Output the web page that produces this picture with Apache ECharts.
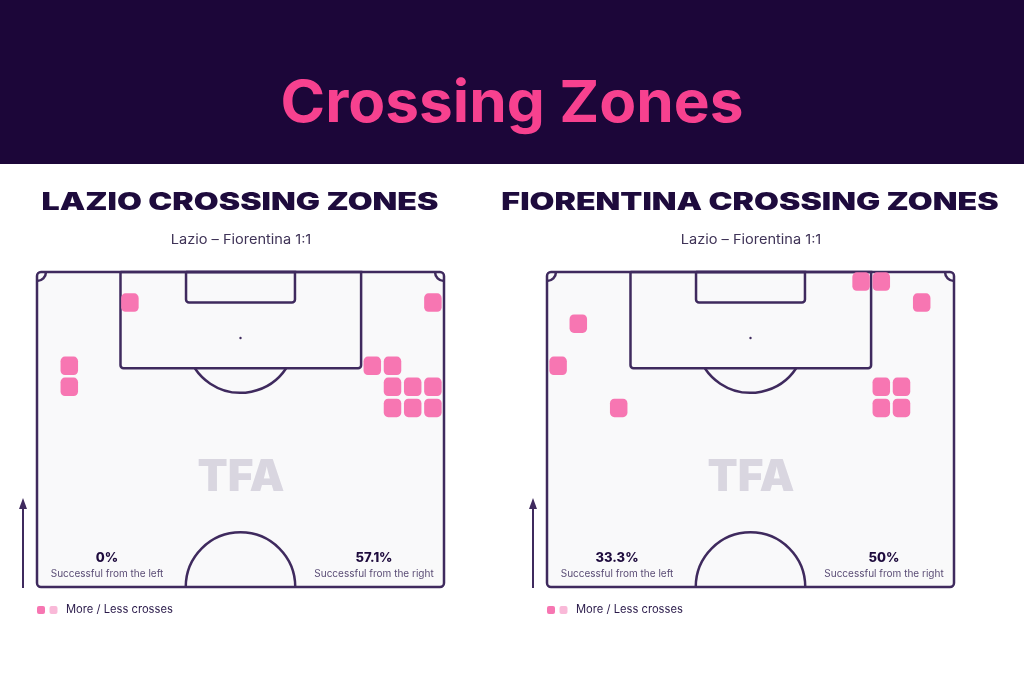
<!DOCTYPE html>
<html>
<head>
<meta charset="utf-8">
<script src="https://cdn.jsdelivr.net/npm/echarts@6/dist/echarts.min.js"></script>
<style>
  html, body { margin: 0; padding: 0; background: #ffffff; }
  #chart { width: 1024px; height: 683px; }
</style>
</head>
<body>
<div id="chart"></div>
<script>
// ---------- data ----------
const headerTitle = 'Crossing Zones';
const panelTitles = ['LAZIO CROSSING ZONES', 'FIORENTINA CROSSING ZONES'];
const matchLabels = ['Lazio – Fiorentina 1:1', 'Lazio – Fiorentina 1:1'];
const successLeft = ['0%', '33.3%'];
const successRight = ['57.1%', '50%'];
const captionLeft = 'Successful from the left';
const captionRight = 'Successful from the right';
const legendLabel = 'More / Less crosses';
const watermark = 'TFA';
// crossing zones: 20 columns across the pitch width, 15 rows from goal line to halfway line
const zoneColumns = ['1','2','3','4','5','6','7','8','9','10','11','12','13','14','15','16','17','18','19','20'];
const zoneRows = ['1','2','3','4','5','6','7','8','9','10','11','12','13','14','15'];
// [column index, row index]
const lazioCrosses = [[4,1],[19,1],[1,4],[1,5],[16,4],[17,4],[17,5],[18,5],[19,5],[17,6],[18,6],[19,6]];
const fiorentinaCrosses = [[15,0],[16,0],[18,1],[1,2],[0,4],[3,6],[16,5],[17,5],[16,6],[17,6]];

// ---------- styling / layout ----------
const LINE = '#3F2A5E';
const DARK = '#1E0B3D';
const PINK = '#F776B2';
const PINK_LIGHT = '#F9B9D8';
const PITCH_FILL = '#F9F9FA';
const FONT = 'Inter, "Noto Sans", sans-serif';
const PANEL_DX = 510;

const PITCH_W = 68, PITCH_H = 52.5;

function pitchItem(params, api) {
  const p = (x, y) => api.coord([x, y]);
  const tl = p(0, 0), br = p(PITCH_W, PITCH_H);
  const sx = (br[0] - tl[0]) / PITCH_W;
  const lw = 2.5;
  const ls = { stroke: LINE, lineWidth: lw, fill: null };
  const box = (x1, x2, depth, r) => {
    const a = p(x1, 0), b = p(x2, depth);
    return { type: 'rect', shape: { x: a[0], y: a[1], width: b[0] - a[0], height: b[1] - a[1], r: r }, style: ls };
  };
  const spot = p(34, 11);
  const boxDepth = 16.05, arcR = 9.15;
  const th = Math.asin((boxDepth - 11) / arcR);
  const cc = p(34, PITCH_H);
  const cornerR = 1.5 * sx;
  return {
    type: 'group',
    children: [
      { type: 'rect', shape: { x: tl[0], y: tl[1], width: br[0] - tl[0], height: br[1] - tl[1], r: 4 },
        style: { fill: PITCH_FILL, stroke: LINE, lineWidth: lw } },
      box(13.95, 54.15, boxDepth, [0, 0, 3, 3]),
      box(24.9, 43.1, 5.1, [0, 0, 3, 3]),
      { type: 'arc', shape: { cx: spot[0], cy: spot[1], r: arcR * sx, startAngle: th, endAngle: Math.PI - th, clockwise: true }, style: ls },
      { type: 'circle', shape: { cx: spot[0], cy: spot[1], r: 1.2 }, style: { fill: LINE } },
      { type: 'arc', shape: { cx: cc[0], cy: cc[1], r: 9.15 * sx, startAngle: Math.PI, endAngle: 2 * Math.PI, clockwise: true }, style: ls },
      { type: 'arc', shape: { cx: tl[0], cy: tl[1], r: cornerR, startAngle: 0, endAngle: Math.PI / 2, clockwise: true }, style: ls },
      { type: 'arc', shape: { cx: br[0], cy: tl[1], r: cornerR, startAngle: Math.PI / 2, endAngle: Math.PI, clockwise: true }, style: ls }
    ]
  };
}

function text(x, y, str, font, fill, align, scaleX) {
  return { type: 'text', z: 10, x: x, y: y, scaleX: scaleX || 1,
    style: { x: 0, y: 0, text: str, font: font, fill: fill, textAlign: align || 'center', textVerticalAlign: 'middle' } };
}

const graphics = [
  { type: 'rect', z: -10, shape: { x: 0, y: 0, width: 1024, height: 164 }, style: { fill: '#1C0639' } },
  text(512, 105, headerTitle, '700 58px ' + FONT, '#F7418F', 'center', 1.04)
];
[0, 1].forEach(function (i) {
  const dx = i * PANEL_DX;
  graphics.push(text(240 + dx, 203, panelTitles[i], '900 24px ' + FONT, DARK, 'center', 1.34));
  graphics.push(text(241 + dx, 240, matchLabels[i], '400 13px ' + FONT, '#3F3357', 'center', 1.12));
  graphics.push(text(241 + dx, 478, watermark, '900 44px ' + FONT, '#D9D6E0'));
  graphics.push(text(107 + dx, 558, successLeft[i], '800 13px ' + FONT, DARK));
  graphics.push(text(107 + dx, 574, captionLeft, '400 10px ' + FONT, '#5A4C75'));
  graphics.push(text(374 + dx, 558, successRight[i], '800 13px ' + FONT, DARK));
  graphics.push(text(374 + dx, 574, captionRight, '400 10px ' + FONT, '#5A4C75'));
  graphics.push({ type: 'line', z: 10, shape: { x1: 23 + dx, y1: 588, x2: 23 + dx, y2: 506 }, style: { stroke: LINE, lineWidth: 2 } });
  graphics.push({ type: 'polygon', z: 10, shape: { points: [[19 + dx, 509], [27 + dx, 509], [23 + dx, 498]] }, style: { fill: LINE } });
  graphics.push({ type: 'rect', z: 10, shape: { x: 37 + dx, y: 606, width: 8, height: 8, r: 2 }, style: { fill: PINK } });
  graphics.push({ type: 'rect', z: 10, shape: { x: 49.5 + dx, y: 606, width: 8, height: 8, r: 2 }, style: { fill: PINK_LIGHT } });
  graphics.push(text(66 + dx, 610, legendLabel, '400 11.2px ' + FONT, '#2A1A4A', 'left'));
});

const chart = echarts.init(document.getElementById('chart'), null, { renderer: 'canvas' });
chart.setOption({
  backgroundColor: '#ffffff',
  animation: false,
  grid: [
    { left: 37, top: 272, width: 407, height: 315 },
    { left: 547, top: 272, width: 407, height: 315 },
    { left: 39, top: 271, width: 404, height: 316 },
    { left: 548, top: 271, width: 404, height: 316 }
  ],
  xAxis: [
    { gridIndex: 0, type: 'value', min: 0, max: PITCH_W, show: false },
    { gridIndex: 1, type: 'value', min: 0, max: PITCH_W, show: false },
    { gridIndex: 2, type: 'category', data: zoneColumns, show: false },
    { gridIndex: 3, type: 'category', data: zoneColumns, show: false }
  ],
  yAxis: [
    { gridIndex: 0, type: 'value', min: 0, max: PITCH_H, inverse: true, show: false },
    { gridIndex: 1, type: 'value', min: 0, max: PITCH_H, inverse: true, show: false },
    { gridIndex: 2, type: 'category', data: zoneRows, inverse: true, show: false },
    { gridIndex: 3, type: 'category', data: zoneRows, inverse: true, show: false }
  ],
  graphic: graphics,
  series: [
    { type: 'custom', xAxisIndex: 0, yAxisIndex: 0, data: [[0, 0]], renderItem: pitchItem, clip: false, silent: true, z: 1 },
    { type: 'custom', xAxisIndex: 1, yAxisIndex: 1, data: [[0, 0]], renderItem: pitchItem, clip: false, silent: true, z: 1 },
    { type: 'scatter', name: 'Lazio', xAxisIndex: 2, yAxisIndex: 2, data: lazioCrosses, symbol: 'roundRect', symbolSize: [17.5, 18.5], itemStyle: { color: PINK, opacity: 1 }, z: 3, silent: true },
    { type: 'scatter', name: 'Fiorentina', xAxisIndex: 3, yAxisIndex: 3, data: fiorentinaCrosses, symbol: 'roundRect', symbolSize: [17.5, 18.5], itemStyle: { color: PINK, opacity: 1 }, z: 3, silent: true }
  ]
});
</script>
</body>
</html>
